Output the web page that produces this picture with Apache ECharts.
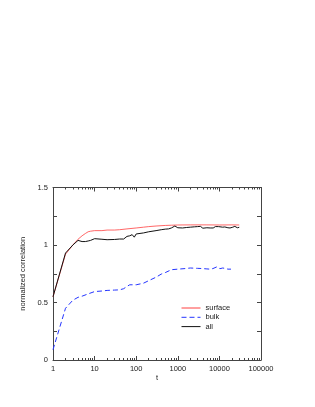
<!DOCTYPE html>
<html><head><meta charset="utf-8">
<script src="https://cdn.jsdelivr.net/npm/echarts@6/dist/echarts.min.js"></script>
<style>html,body{margin:0;padding:0;background:#fff}#c{width:315px;height:407px}</style>
</head><body><div id="c"></div>
<script>
var xTicks = [1, 10, 100, 1000, 10000, 100000];
var xMinorTicks = [2,3,4,5,6,7,8,9,20,30,40,50,60,70,80,90,200,300,400,500,600,700,800,900,2000,3000,4000,5000,6000,7000,8000,9000,20000,30000,40000,50000,60000,70000,80000,90000];
var yTicks = [0, 0.5, 1, 1.5];

var tSurface = [1,2,3,4,5,6,7,8,10,15,20,30,40,60,100,150,200,300,500,700,1000,2000,5000,10000,20000,30000];
var surface  = [0.55,0.92,1.00,1.05,1.08,1.10,1.115,1.12,1.125,1.125,1.13,1.13,1.133,1.14,1.148,1.155,1.16,1.165,1.17,1.172,1.174,1.175,1.175,1.174,1.175,1.174];

var tBulk = [1,2,3,4,5,7,10,15,20,30,40,50,60,70,100,150,200,300,400,500,700,1000,1500,2000,3000,4000,5000,6000,7000,8700,10300,12000,14000,16000,19000];
var bulk  = [0.09,0.45,0.52,0.545,0.555,0.575,0.595,0.6,0.605,0.608,0.61,0.62,0.64,0.654,0.654,0.668,0.69,0.72,0.747,0.76,0.785,0.79,0.795,0.8,0.797,0.795,0.792,0.79,0.795,0.81,0.794,0.8,0.796,0.79,0.79];

var tAll = [1,2,3,4,5,6,7,8,10,15,20,30,40,50,60,70,80,90,100,150,200,300,400,500,600,700,850,1000,1300,1600,2000,2500,3000,3500,4000,5000,6000,7100,8000,8700,9500,10300,12000,13500,16000,18000,21000,23500,27000,30000];
var all  = [0.55,0.93,1.0,1.04,1.03,1.03,1.035,1.04,1.055,1.05,1.046,1.048,1.052,1.052,1.075,1.08,1.09,1.068,1.096,1.105,1.115,1.125,1.133,1.138,1.14,1.148,1.165,1.15,1.148,1.152,1.155,1.158,1.16,1.162,1.146,1.15,1.148,1.148,1.16,1.172,1.16,1.145,1.155,1.157,1.15,1.148,1.155,1.162,1.15,1.154];

function pairs(xs, ys){ return xs.map(function(x,i){ return [x, ys[i]]; }); }

var FONT = 'Liberation Sans';
var AX = '#444';
function xAx(pos, custom, len, line, labels){
  return {
    type:'log', logBase:10, min:1, max:100000, position:pos,
    axisLine:{show:line, onZero:false, lineStyle:{color:AX, width:1}},
    axisTick:{show:true, inside:true, length:len, customValues:custom, lineStyle:{color:AX, width:1}},
    axisLabel:{show:labels, customValues:xTicks, fontFamily:FONT, fontSize:7.5, color:'#222', margin:5,
      formatter:function(v){ return String(Math.round(v)); }},
    splitLine:{show:false}, minorTick:{show:false}
  };
}
var xAxes = [xAx('bottom', xTicks, 4, true, true), xAx('bottom', xMinorTicks, 2, false, false),
             xAx('top', xTicks, 4, true, false), xAx('top', xMinorTicks, 2, false, false)];
xAxes[0].name = 't'; xAxes[0].nameLocation='middle'; xAxes[0].nameGap = 14;
xAxes[0].nameTextStyle = {fontFamily:FONT, fontSize:7.5, color:'#222'};

function yAx(pos, labels){
  return {
    type:'value', min:0, max:1.5, interval:0.5, position:pos,
    axisLine:{show:true, onZero:false, lineStyle:{color:AX, width:1}},
    axisTick:{show:true, inside:true, length:4, lineStyle:{color:AX, width:1}},
    minorTick:{show:true, splitNumber:2, length:4, lineStyle:{color:AX, width:1}},
    axisLabel:{show:labels, fontFamily:FONT, fontSize:7.5, color:'#222', margin:5, formatter:function(v){return String(v);}},
    splitLine:{show:false}
  };
}
var yAxes = [yAx('left', true), yAx('right', false)];
yAxes[0].name = 'normalized correlation'; yAxes[0].nameLocation='middle'; yAxes[0].nameGap = 18;
yAxes[0].nameTextStyle = {fontFamily:FONT, fontSize:7.5, color:'#222'};

var chart = echarts.init(document.getElementById('c'), null, {renderer:'canvas'});
chart.setOption({
  animation:false,
  backgroundColor:'#fff',
  grid:{left:53, top:187.5, right:54, bottom:47, containLabel:false},
  xAxis: xAxes,
  yAxis: yAxes,
  legend:{
    show:true, orient:'vertical', left:181, top:304, padding:0, itemWidth:19, itemHeight:8, itemGap:1.3,
    itemStyle:{opacity:0},
    lineStyle:{width:1},
    textStyle:{fontFamily:FONT, fontSize:7.5, color:'#222'},
    data:['surface','bulk','all']
  },
  series:[
    {name:'surface', type:'line', data:pairs(tSurface, surface), showSymbol:false, symbol:'none',
      lineStyle:{color:'#ff4040', width:0.8}, itemStyle:{color:'#ff4040'}},
    {name:'bulk', type:'line', data:pairs(tBulk, bulk), showSymbol:false, symbol:'none',
      lineStyle:{color:'#2535ff', width:1, type:[5,3]}, itemStyle:{color:'#2535ff'}},
    {name:'all', type:'line', data:pairs(tAll, all), showSymbol:false, symbol:'none',
      lineStyle:{color:'#111', width:1}, itemStyle:{color:'#111'}}
  ]
});
</script></body></html>
